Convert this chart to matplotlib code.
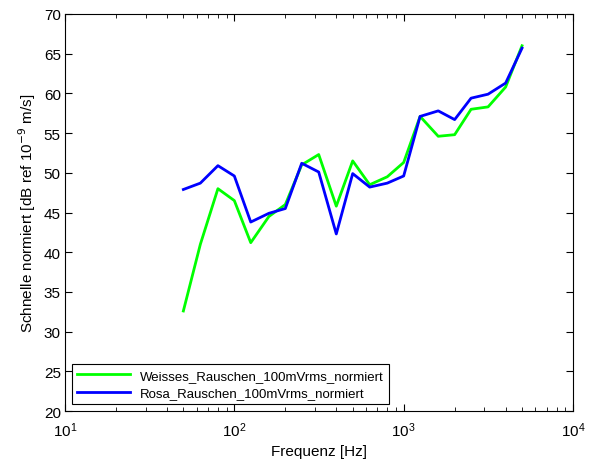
import numpy as np
import matplotlib.pyplot as plt

plt.rcParams['font.family'] = ['Liberation Sans', 'DejaVu Sans']

freq = [50, 63, 80, 100, 125, 160, 200, 250, 315, 400, 500, 630, 800,
        1000, 1250, 1600, 2000, 2500, 3150, 4000, 5000]
weiss = [32.6, 41.0, 48.0, 46.5, 41.2, 44.5, 46.0, 51.0, 52.3, 45.8, 51.5,
         48.5, 49.5, 51.3, 57.1, 54.6, 54.8, 58.0, 58.3, 60.8, 66.0]
rosa = [47.9, 48.7, 50.9, 49.6, 43.8, 44.9, 45.5, 51.2, 50.1, 42.3, 49.9,
        48.2, 48.7, 49.6, 57.1, 57.8, 56.7, 59.4, 59.9, 61.3, 65.7]

fig = plt.figure(figsize=(5.93, 4.64), dpi=100)
ax = fig.add_axes([0.1096, 0.112, 0.8567, 0.8557])

ax.semilogx(freq, weiss, color='#00ff00', lw=2, label='Weisses_Rauschen_100mVrms_normiert')
ax.semilogx(freq, rosa, color='#0000ff', lw=2, label='Rosa_Rauschen_100mVrms_normiert')

ax.set_xlim(10, 1e4)
ax.set_ylim(20, 70)
ax.set_yticks(np.arange(20, 71, 5))
ax.tick_params(which='both', direction='in', top=True, right=True, labelsize=11)
ax.tick_params(axis='x', which='major', pad=7)
ax.tick_params(axis='y', which='major', pad=3)
ax.tick_params(which='major', length=5)
ax.tick_params(which='minor', length=3)
ax.set_xlabel('Frequenz [Hz]', fontsize=11, labelpad=3)
ax.set_ylabel('Schnelle normiert [dB ref 10$^{-9}$ m/s]', fontsize=11, labelpad=4)

leg = ax.legend(loc='lower left', fontsize=9.5, fancybox=False, framealpha=1,
                edgecolor='black', borderaxespad=0.5, handlelength=4,
                borderpad=0.4, labelspacing=0.4)
leg.get_frame().set_linewidth(0.8)

fig.savefig('out.png', dpi=100)
